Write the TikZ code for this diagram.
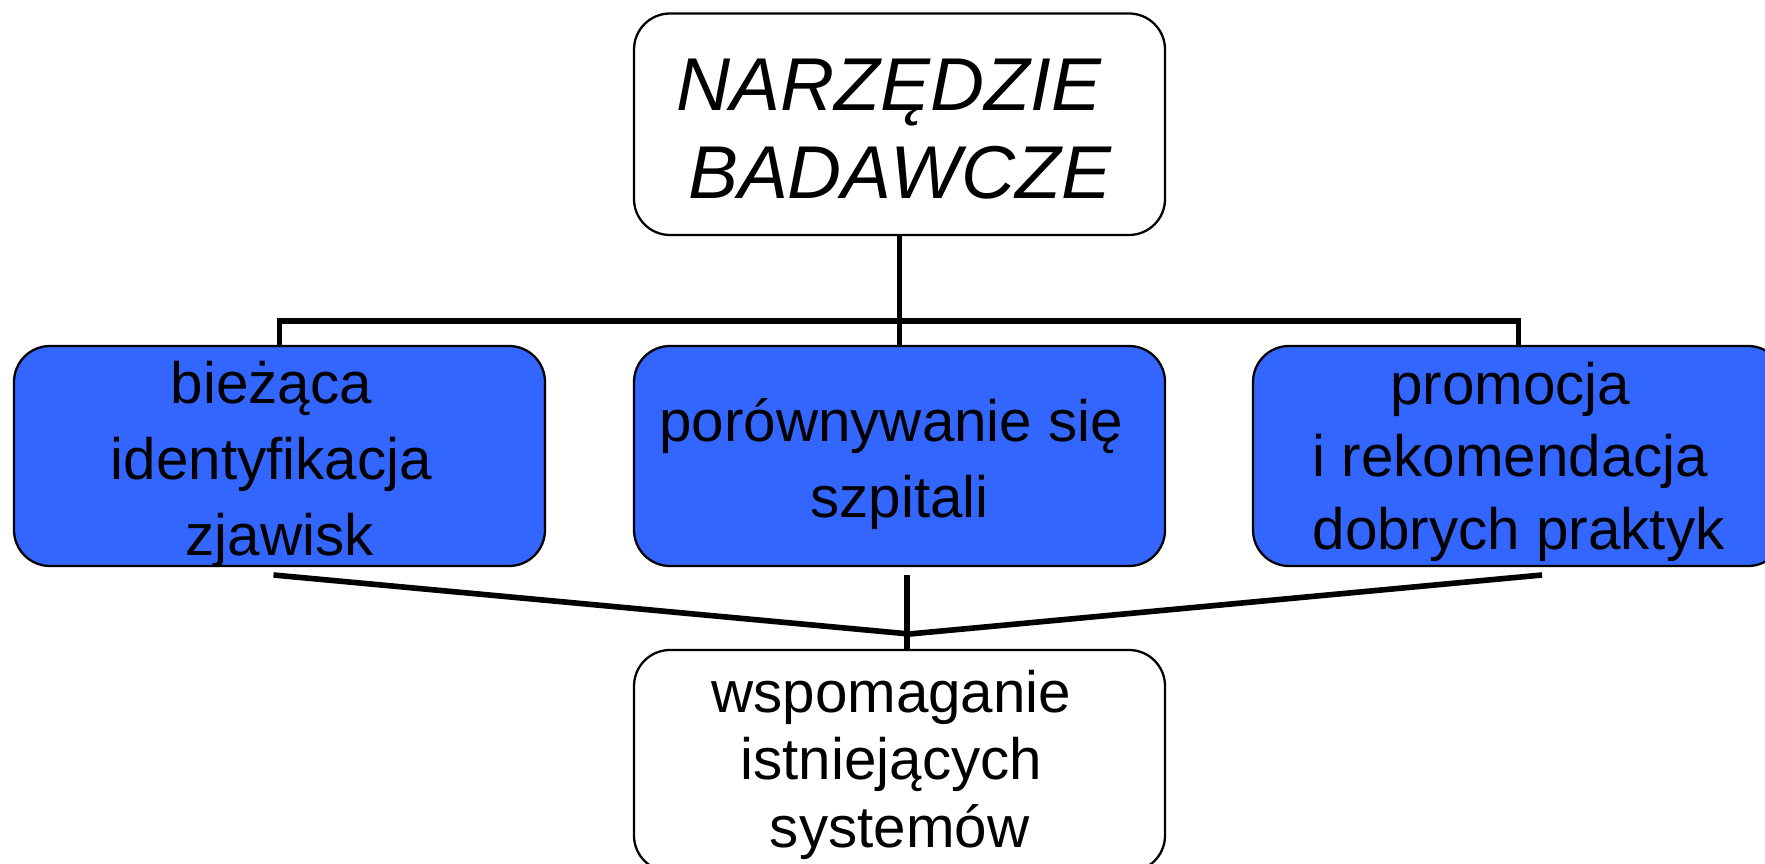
\documentclass[tikz,border=0pt]{standalone}
\usepackage{fontspec}
\setmainfont{Liberation Sans}
\usepackage{tikz}
\definecolor{boxblue}{RGB}{51,102,255}
\newcommand{\tsp}{\kern.28em}
\tikzstyle{box}=[draw,line width=0.65pt,rounded corners=0.36cm,minimum width=5.31cm,minimum height=2.2cm,inner sep=0pt,align=center,text depth=0.05cm,font=\fontsize{16.6}{21.5}\selectfont]
\tikzstyle{bluebox}=[box,fill=boxblue]
\tikzstyle{link}=[line width=1.6pt]

\begin{document}
\begin{tikzpicture}
      \useasboundingbox (0,0) rectangle (17.65,-8.64);
      \clip (0,0) rectangle (17.65,-8.64);

      \node[box, minimum height=2.215cm, font=\fontsize{21.3}{25.3}\selectfont\itshape, text height=1.545cm] (tool) at (8.995,-1.2425) {NARZĘDZIE\tsp\\BADAWCZE};

      \node[bluebox, text height=2.03cm] (lft) at (2.795,-4.56) {bieżąca\tsp\\identyfikacja\tsp\\zjawisk};
      \node[bluebox, text height=1.27cm] (mid) at (8.995,-4.56) {porównywanie się\tsp\\szpitali};
      \node[bluebox, text height=1.91cm, font=\fontsize{16.6}{20.5}\selectfont] (rgt) at (15.185,-4.56) {promocja\tsp\\i rekomendacja\tsp\\dobrych praktyk};

      \node[box, minimum height=2.215cm, text height=1.775cm, font=\fontsize{16.6}{19.2}\selectfont] (sys) at (8.995,-7.6075) {wspomaganie\tsp\\istniejących\tsp\\systemów};

      \coordinate (bus) at (8.995,-3.21);
      \draw[link] (tool.south) -- (mid.north);
      \draw[link] (lft.north) |- (bus) -| (rgt.north);

      \coordinate (lfoot) at (2.735,-5.75);
      \coordinate (rfoot) at (15.42,-5.75);
      \coordinate (mfoot) at (9.07,-5.75);
      \coordinate (meet) at (9.095,-6.34);
      \draw[link] (lfoot) -- (meet) -- (rfoot);
      \draw[link] (mfoot) -- (mfoot |- sys.north);
    \end{tikzpicture}
\end{document}
